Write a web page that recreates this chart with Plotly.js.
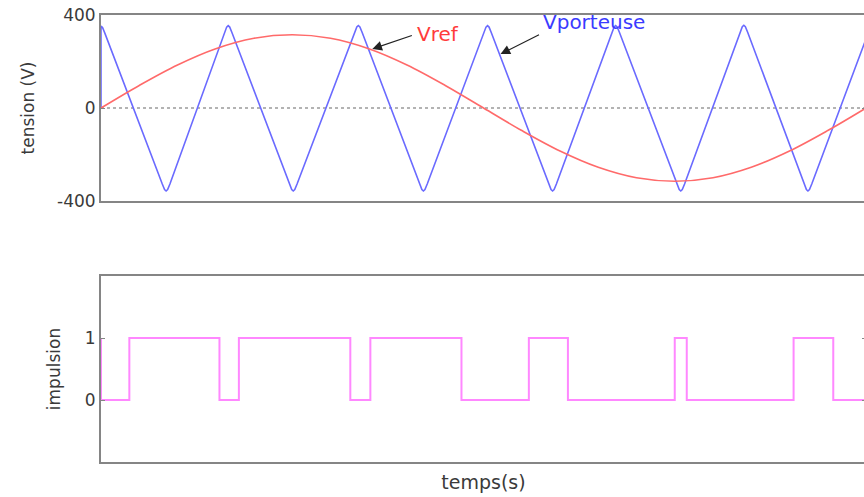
<!DOCTYPE html>
<html>
<head>
<meta charset="utf-8">
<script src="https://cdn.plot.ly/plotly-3.0.1.min.js"></script>
<style>
html,body{margin:0;padding:0;overflow:hidden;background:#fff;width:864px;height:497px;}
#chart{width:868px;height:497px;}
</style>
</head>
<body>
<div id="chart"></div>
<script>
// Porteuse triangulaire (V) : points lus autour de chaque sommet arrondi
var carrierT = [0, 0, 0.00004, 0.0001,
  0.001602, 0.001662, 0.001702, 0.001742, 0.001802,
  0.003225, 0.003285, 0.003325, 0.003365, 0.003425,
  0.004926, 0.004986, 0.005026, 0.005066, 0.005126,
  0.006628, 0.006688, 0.006728, 0.006768, 0.006828,
  0.008329, 0.008389, 0.008429, 0.008469, 0.008529,
  0.010005, 0.010065, 0.010105, 0.010145, 0.010205,
  0.011706, 0.011766, 0.011806, 0.011846, 0.011906,
  0.013355, 0.013415, 0.013455, 0.013495, 0.013555,
  0.015057, 0.015117, 0.015157, 0.015197, 0.015257,
  0.016706, 0.016766, 0.016806, 0.016846, 0.016906,
  0.018382, 0.018442, 0.018482, 0.018522, 0.018582,
  0.020057, 0.020117, 0.020157];
var carrierV = [0, 352, 346, 322,
  -327, -351, -357, -351, -327,
  324, 348, 354, 348, 324,
  -327, -351, -357, -351, -327,
  325, 349, 355, 349, 325,
  -327, -351, -357, -351, -327,
  324, 348, 354, 348, 324,
  -327, -351, -357, -351, -327,
  325, 349, 355, 349, 325,
  -327, -351, -357, -351, -327,
  326, 350, 356, 350, 326,
  -327, -351, -357, -351, -327,
  325, 349, 355];

// Tension de référence (V)
var refT = [0, 0.001, 0.002, 0.003, 0.004, 0.005, 0.006, 0.007, 0.008, 0.009, 0.010, 0.011, 0.012, 0.013, 0.014, 0.015, 0.016, 0.017, 0.018, 0.019, 0.020];
var refV = [0, 97, 185, 255, 300, 315, 300, 255, 185, 97, 0, -97, -185, -255, -300, -315, -300, -255, -185, -97, 0];

// Impulsions (fronts)
var pulseT = [0, 0, 0.000741, 0.003097, 0.003605, 0.006518, 0.007042, 0.009424, 0.011186, 0.012207, 0.015000, 0.015314, 0.018107, 0.019144, 0.020];
var pulseV = [1, 0, 1, 0, 1, 0, 1, 0, 1, 0, 1, 0, 1, 0, 0];

var tensionTicks = [-400, 0, 400];
var impulsionTicks = [0, 1];

var frameColor = '#858585';
var fam = 'DejaVu Sans, Liberation Sans, Arial, sans-serif';
var font = {family: fam, size: 17, color: '#3a3a3a'};
var titleFont = {family: fam, size: 17, color: '#3a3a3a'};

var traces = [
  {x: carrierT, y: carrierV, type: 'scatter', mode: 'lines', xaxis: 'x', yaxis: 'y',
   line: {color: '#6a6aff', width: 1.6}, hoverinfo: 'skip'},
  {x: refT, y: refV, type: 'scatter', mode: 'lines', xaxis: 'x', yaxis: 'y',
   line: {color: '#ff6a6a', width: 1.6, shape: 'spline'}, hoverinfo: 'skip'},
  {x: pulseT, y: pulseV, type: 'scatter', mode: 'lines', xaxis: 'x2', yaxis: 'y2',
   line: {color: '#ff88ff', width: 2, shape: 'hv'}, hoverinfo: 'skip'}
];

var axCommon = {
  showgrid: false, zeroline: false, showline: true, mirror: 'ticks',
  linecolor: frameColor, linewidth: 2
};

var layout = {
  width: 868, height: 497,
  margin: {l: 101, r: 2, t: 15, b: 35},
  paper_bgcolor: '#fff', plot_bgcolor: '#fff',
  showlegend: false,
  font: font,
  xaxis: Object.assign({}, axCommon, {range: [0, 0.02], domain: [0, 1], anchor: 'y',
    showticklabels: false, ticks: ''}),
  yaxis: Object.assign({}, axCommon, {range: [-400, 400], domain: [0.5839, 1], anchor: 'x',
    tickvals: tensionTicks, ticktext: tensionTicks.map(String), ticks: 'inside', ticklen: 4,
    tickcolor: frameColor, tickfont: font,
    title: {text: 'tension (V)', font: titleFont, standoff: 18}}),
  xaxis2: Object.assign({}, axCommon, {range: [0, 0.02], domain: [0, 1], anchor: 'y2',
    showticklabels: false, ticks: '',
    title: {text: 'temps(s)', font: {family: fam, size: 19, color: '#3a3a3a'}, standoff: 13}}),
  yaxis2: Object.assign({}, axCommon, {range: [-1, 2], domain: [0, 0.4161], anchor: 'x2',
    tickvals: impulsionTicks, ticktext: impulsionTicks.map(String), ticks: 'inside', ticklen: 4,
    tickcolor: frameColor, tickfont: font,
    title: {text: 'impulsion', font: titleFont, standoff: 20}}),
  shapes: [
    {type: 'line', xref: 'x domain', yref: 'y', x0: 0, x1: 1, y0: 0, y1: 0,
     line: {color: '#9a9a9a', width: 1.5, dash: 'dot'}, layer: 'below'}
  ],
  annotations: [
    {xref: 'x', yref: 'y', x: 0.008822, y: 318, text: 'Vref', showarrow: false,
     font: {family: fam, size: 20, color: '#ff3b3b'}},
    {xref: 'x', yref: 'y', x: 0.007094, y: 254, text: '', showarrow: true,
     ax: 41, ay: -14, arrowhead: 2, arrowsize: 1.6, arrowwidth: 1.2, arrowcolor: '#222'},
    {xref: 'x', yref: 'y', x: 0.01290, y: 370, text: 'Vporteuse', showarrow: false,
     font: {family: fam, size: 20, color: '#3b3bff'}},
    {xref: 'x', yref: 'y', x: 0.010445, y: 232, text: '', showarrow: true,
     ax: 40, ay: -20, arrowhead: 2, arrowsize: 1.6, arrowwidth: 1.2, arrowcolor: '#222'}
  ]
};

Plotly.newPlot('chart', traces, layout, {displayModeBar: false, staticPlot: true});
</script>
</body>
</html>
